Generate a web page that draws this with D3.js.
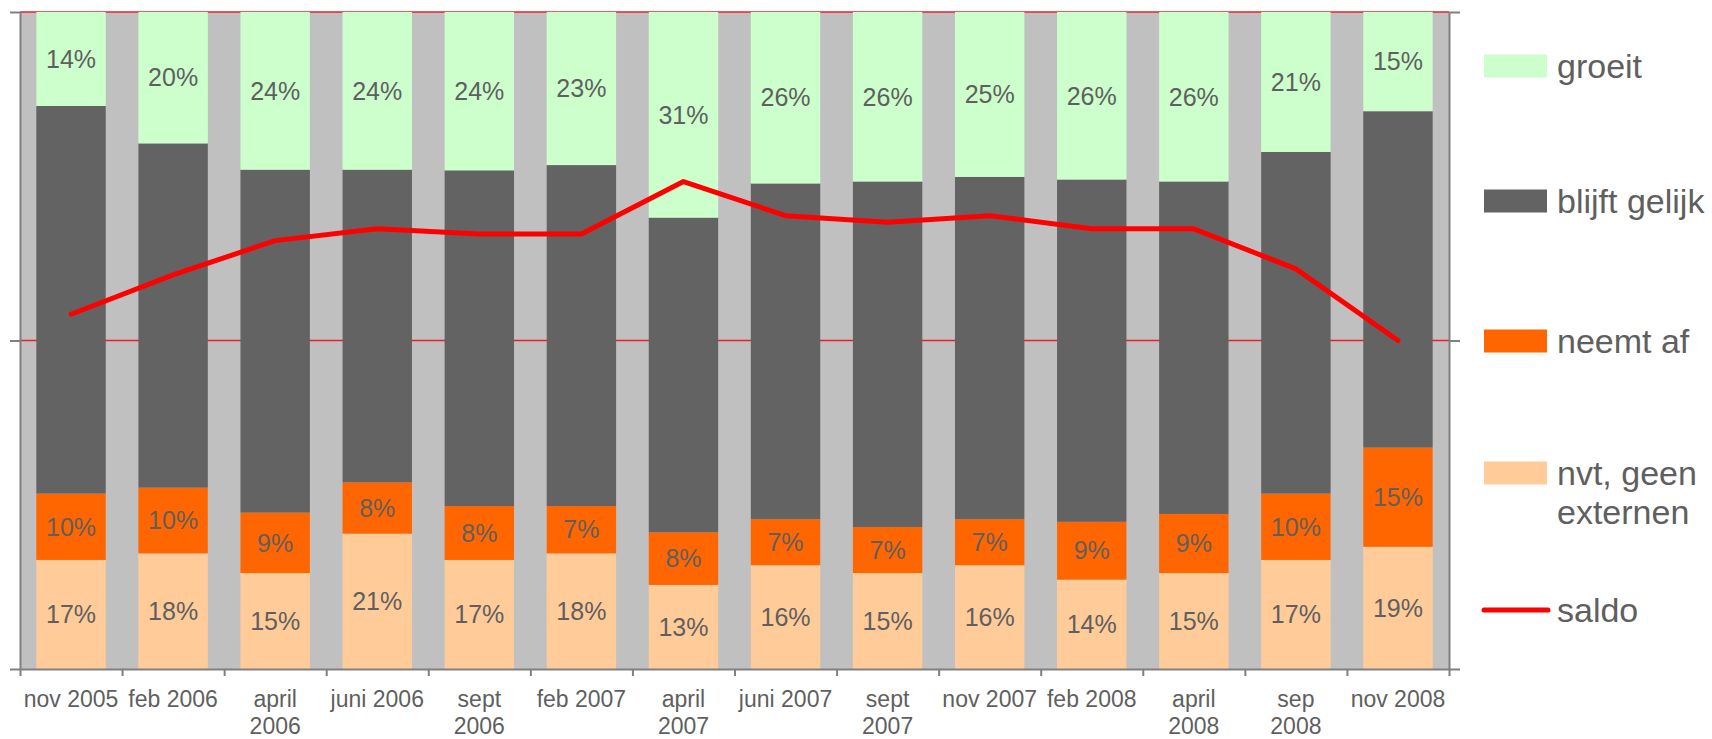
<!DOCTYPE html>
<html>
<head>
<meta charset="utf-8">
<script src="https://cdn.jsdelivr.net/npm/d3@7"></script>
<style>
  body { margin: 0; background: #fff; }
  text { font-family: "Liberation Sans", Arial, sans-serif; fill: #5f5f5f; }
</style>
</head>
<body>
<svg width="1712" height="739"></svg>
<script>
let categories = ["nov 2005", "feb 2006", "april\n2006", "juni 2006", "sept\n2006", "feb 2007", "april\n2007",
  "juni 2007", "sept\n2007", "nov 2007", "feb 2008", "april\n2008", "sep\n2008", "nov 2008"];

// percentages
let nvt = [16.6, 17.6, 14.6, 20.6, 16.6, 17.6, 12.8, 15.8, 14.6, 15.8, 13.6, 14.6, 16.6, 18.6];
let neemtAf = [10.1, 10.0, 9.2, 7.8, 8.2, 7.2, 8.0, 7.0, 7.0, 7.0, 8.8, 9.0, 10.1, 15.1];
let blijftGelijk = [59.0, 52.4, 52.2, 47.6, 51.1, 51.9, 47.9, 51.1, 52.6, 52.1, 52.1, 50.6, 52.0, 51.2];
let groeit = [14.3, 20.0, 24.0, 24.0, 24.1, 23.3, 31.3, 26.1, 25.8, 25.1, 25.5, 25.8, 21.3, 15.1];
let saldo = [4, 10, 15.2, 17, 16.2, 16.2, 24.2, 19, 18, 19, 17, 17, 10.9, 0];

let seriesNames = ["nvt, geen externen", "neemt af", "blijft gelijk", "groeit"];
let seriesColors = ["#ffcc99", "#ff6600", "#636363", "#ccffcc"];

let svg = d3.select("svg");
let pLeft = 20, pRight = 1449, pTop = 12, pBottom = 669;

let x = d3.scaleBand().domain(d3.range(categories.length)).range([pLeft, pRight])
  .paddingInner(0.32).paddingOuter(0.16);
let xEdge = d3.scaleLinear().domain([0, categories.length]).range([pLeft, pRight]);
let y = d3.scaleLinear().domain([0, 100]).range([pBottom, pTop]);
let y2 = d3.scaleLinear().domain([-50, 50]).range([pBottom, pTop]);

// plot background
svg.append("rect")
  .attr("x", pLeft).attr("y", pTop)
  .attr("width", pRight - pLeft).attr("height", pBottom - pTop)
  .attr("fill", "#c0c0c0");

// red gridlines
svg.selectAll("line.grid")
  .data([50, 100])
  .enter()
  .append("line")
  .attr("class", "grid")
  .attr("x1", pLeft).attr("x2", pRight)
  .attr("y1", d => y(d)).attr("y2", d => y(d))
  .attr("stroke", "#e8202a")
  .attr("stroke-width", 1.5);

// stacked bars
let rows = categories.map((c, i) => ({
  i: i,
  "nvt, geen externen": nvt[i],
  "neemt af": neemtAf[i],
  "blijft gelijk": blijftGelijk[i],
  "groeit": groeit[i]
}));
let stacked = d3.stack().keys(seriesNames)(rows);

let groups = svg.selectAll("g.series")
  .data(stacked)
  .enter()
  .append("g")
  .attr("class", "series")
  .attr("fill", (d, k) => seriesColors[k]);

groups.selectAll("rect")
  .data(d => d)
  .enter()
  .append("rect")
  .attr("x", d => x(d.data.i))
  .attr("y", d => y(d[1]))
  .attr("width", x.bandwidth())
  .attr("height", d => y(d[0]) - y(d[1]));

// segment labels (not on "blijft gelijk")
stacked.forEach((s, k) => {
  if (s.key === "blijft gelijk") return;
  svg.append("g")
    .selectAll("text")
    .data(s)
    .enter()
    .append("text")
    .attr("x", d => x(d.data.i) + x.bandwidth() / 2)
    .attr("y", d => (y(d[0]) + y(d[1])) / 2)
    .attr("dy", "0.35em")
    .attr("text-anchor", "middle")
    .style("font-size", "25px")
    .text(d => Math.round(d[1] - d[0]) + "%");
});

// saldo line
let line = d3.line()
  .x((d, i) => x(i) + x.bandwidth() / 2)
  .y(d => y2(d));

svg.append("path")
  .datum(saldo)
  .attr("d", line)
  .attr("fill", "none")
  .attr("stroke", "#ff0000")
  .attr("stroke-width", 5)
  .attr("stroke-linejoin", "round")
  .attr("stroke-linecap", "round");

// axes
let axisColor = "#808080";
let gl = svg.append("g")
  .attr("transform", `translate(${pLeft},0)`)
  .call(d3.axisLeft(y).tickValues([0, 50, 100]).tickSize(10).tickSizeOuter(0).tickFormat(""));
let gr = svg.append("g")
  .attr("transform", `translate(${pRight},0)`)
  .call(d3.axisRight(y2).tickValues([-50, 0, 50]).tickSize(11).tickSizeOuter(0).tickFormat(""));
let gb = svg.append("g")
  .attr("transform", `translate(0,${pBottom})`)
  .call(d3.axisBottom(xEdge).tickValues(d3.range(categories.length + 1)).tickSize(7).tickSizeOuter(0).tickFormat(""));
[gl, gr, gb].forEach(g => {
  g.selectAll("path, line").attr("stroke", axisColor).attr("stroke-width", 2);
});

// category labels
let labels = svg.append("g")
  .selectAll("text")
  .data(categories)
  .enter()
  .append("text")
  .attr("text-anchor", "middle")
  .style("font-size", "23px")
  .attr("transform", (d, i) => `translate(${x(i) + x.bandwidth() / 2},${pBottom + 38})`);
labels.selectAll("tspan")
  .data(d => d.split("\n"))
  .enter()
  .append("tspan")
  .attr("x", 0)
  .attr("dy", (d, j) => j === 0 ? 0 : 27)
  .text(d => d);

// legend
let legendItems = [
  { name: ["groeit"], color: "#ccffcc", type: "box", cy: 66 },
  { name: ["blijft gelijk"], color: "#636363", type: "box", cy: 201 },
  { name: ["neemt af"], color: "#ff6600", type: "box", cy: 341 },
  { name: ["nvt, geen", "externen"], color: "#ffcc99", type: "box", cy: 473 },
  { name: ["saldo"], color: "#ff0000", type: "line", cy: 610 }
];

let leg = svg.append("g")
  .selectAll("g")
  .data(legendItems)
  .enter()
  .append("g")
  .attr("transform", d => `translate(1484,${d.cy})`);

leg.filter(d => d.type === "box")
  .append("rect")
  .attr("x", 0).attr("y", -11.5)
  .attr("width", 63).attr("height", 23)
  .attr("fill", d => d.color);

leg.filter(d => d.type === "line")
  .append("line")
  .attr("x1", 0).attr("x2", 64)
  .attr("y1", 0).attr("y2", 0)
  .attr("stroke", d => d.color)
  .attr("stroke-width", 5)
  .attr("stroke-linecap", "round");

let legText = leg.append("text")
  .attr("y", 0)
  .style("font-size", "34px");
legText.selectAll("tspan")
  .data(d => d.name)
  .enter()
  .append("tspan")
  .attr("x", 73)
  .attr("dy", (d, j) => j === 0 ? "0.35em" : "39px")
  .text(d => d);
</script>
</body>
</html>
